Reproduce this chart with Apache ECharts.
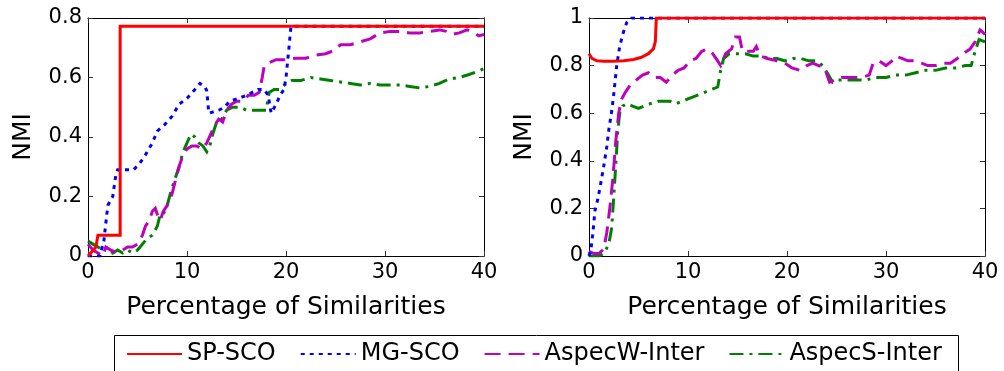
<!DOCTYPE html>
<html>
<head>
<meta charset="utf-8">
<script src="https://cdn.jsdelivr.net/npm/echarts@6/dist/echarts.min.js"></script>
<style>
html,body{margin:0;padding:0;background:#fff;}
#chart{width:1004px;height:371px;}
</style>
</head>
<body>
<div id="chart"></div>
<script>
// ---------- data ----------
const seriesNames = ['SP-SCO', 'MG-SCO', 'AspecW-Inter', 'AspecS-Inter'];
const xTicks = [0, 10, 20, 30, 40];
const leftYTicks = [0, 0.2, 0.4, 0.6, 0.8];
const rightYTicks = [0, 0.2, 0.4, 0.6, 0.8, 1];

// Left panel
const leftSP = [[0,0],[0.8,0.03],[1.0,0.07],[3.25,0.07],[3.25,0.772],[40,0.772]];
const leftMG = [[0,0],[1.2,0],[1.6,0.05],[2.0,0.17],[2.5,0.2],[2.8,0.27],[3.0,0.29],[4.6,0.29],[5.2,0.31],[5.8,0.34],[6.5,0.38],[7.0,0.42],[7.7,0.44],[8.5,0.47],[9.2,0.51],[10,0.53],[10.8,0.56],[11.3,0.58],[11.8,0.57],[12.0,0.555],[12.2,0.48],[13.2,0.49],[13.8,0.5],[14.3,0.52],[15.2,0.53],[16.0,0.54],[16.6,0.55],[17.2,0.56],[17.8,0.56],[18.2,0.54],[18.5,0.48],[19.0,0.51],[19.4,0.54],[19.8,0.56],[20.0,0.6],[20.3,0.7],[20.5,0.772],[40,0.772]];
const leftAW = [[0,0.04],[0.5,0.02],[1,0.01],[1.5,0.0],[1.8,0.03],[2.3,0.02],[3,0.01],[3.5,0.02],[4,0.03],[4.5,0.03],[5,0.04],[5.5,0.07],[5.8,0.1],[6.2,0.12],[6.5,0.15],[6.8,0.16],[7.0,0.14],[7.3,0.12],[7.6,0.15],[8,0.17],[8.5,0.21],[8.8,0.25],[9.2,0.3],[9.6,0.34],[10,0.36],[10.5,0.37],[11,0.37],[11.5,0.36],[12,0.38],[12.4,0.41],[12.8,0.44],[13.2,0.46],[13.6,0.45],[14,0.49],[14.5,0.51],[15,0.52],[15.6,0.52],[16.2,0.54],[16.8,0.54],[17.3,0.55],[17.6,0.6],[17.8,0.64],[18.3,0.65],[19,0.66],[19.6,0.66],[20,0.66],[21,0.665],[22,0.665],[23,0.675],[24,0.68],[24.8,0.69],[25.5,0.71],[26.5,0.71],[27.5,0.72],[28.5,0.73],[29,0.74],[29.5,0.75],[30.5,0.755],[31.5,0.755],[32.5,0.75],[33.5,0.75],[34.5,0.755],[35.5,0.76],[36.2,0.755],[36.8,0.745],[37.5,0.75],[38.3,0.76],[39,0.75],[39.5,0.74],[40,0.745]];
const leftAS = [[0,0.05],[0.5,0.04],[1,0.03],[1.5,0.02],[2,0.03],[2.5,0.01],[3,0.02],[3.5,0.01],[4,0.02],[4.5,0.01],[5,0.02],[5.5,0.04],[6,0.06],[6.5,0.07],[7,0.1],[7.3,0.14],[7.6,0.14],[8,0.17],[8.4,0.22],[8.8,0.26],[9.2,0.3],[9.6,0.35],[10,0.38],[10.4,0.41],[10.8,0.4],[11.2,0.38],[11.6,0.37],[12,0.35],[12.3,0.37],[12.6,0.41],[13,0.45],[13.5,0.46],[14,0.49],[14.6,0.5],[15.4,0.5],[16,0.49],[16.6,0.49],[17.2,0.49],[17.6,0.49],[18,0.49],[18.3,0.55],[18.8,0.56],[19.4,0.56],[20,0.58],[20.6,0.59],[21.5,0.59],[22.5,0.6],[23.5,0.595],[24.5,0.59],[25.5,0.585],[26.5,0.58],[27.5,0.575],[28.5,0.58],[29.5,0.575],[30.5,0.575],[31.5,0.575],[32.5,0.57],[33.5,0.565],[34.5,0.57],[35.5,0.58],[36.5,0.595],[37.5,0.6],[38.5,0.61],[39.3,0.62],[40,0.63]];

// Right panel
const rightSP = [[0,0.85],[0.3,0.83],[0.8,0.82],[1.5,0.818],[2.5,0.818],[3.5,0.82],[4.5,0.826],[5.3,0.835],[6.0,0.85],[6.5,0.87],[6.7,0.9],[6.8,1.0],[40,1.0]];
const rightMG = [[0,0.0],[0.2,0.03],[0.4,0.1],[0.6,0.19],[0.9,0.24],[1.25,0.32],[1.5,0.38],[1.8,0.46],[2.0,0.53],[2.3,0.61],[2.5,0.68],[2.8,0.8],[3.1,0.88],[3.4,0.93],[3.8,0.98],[4.3,1.0],[40,1.0]];
const rightAW = [[0,0.02],[0.5,0.01],[1.0,0.01],[1.5,0.03],[1.8,0.1],[2.1,0.2],[2.4,0.32],[2.7,0.48],[3.0,0.6],[3.3,0.66],[3.7,0.69],[4.2,0.72],[4.8,0.74],[5.4,0.76],[6.0,0.77],[6.6,0.75],[7.2,0.75],[7.8,0.73],[8.4,0.76],[9.0,0.78],[9.6,0.79],[10.2,0.82],[10.8,0.83],[11.4,0.86],[11.9,0.87],[12.5,0.85],[13.0,0.82],[13.3,0.8],[13.8,0.85],[14.4,0.87],[14.8,0.92],[15.2,0.92],[15.5,0.86],[16.0,0.86],[16.6,0.86],[16.9,0.88],[17.3,0.84],[18,0.83],[19,0.82],[19.8,0.81],[20.5,0.79],[21.3,0.78],[22,0.8],[22.6,0.81],[23.2,0.8],[23.8,0.79],[24.3,0.73],[24.8,0.74],[25.5,0.75],[26.5,0.75],[27.5,0.75],[28.3,0.76],[28.7,0.81],[29.3,0.82],[30,0.8],[30.6,0.82],[31,0.84],[31.6,0.83],[32.2,0.82],[33,0.82],[33.6,0.81],[34.2,0.8],[35,0.8],[35.8,0.81],[36.5,0.81],[37.2,0.83],[37.8,0.85],[38.5,0.87],[39,0.9],[39.5,0.95],[39.8,0.94],[40,0.93]];
const rightAS = [[0,0.0],[0.5,0.0],[1.0,0.0],[1.5,0.01],[2.0,0.05],[2.3,0.12],[2.5,0.25],[2.7,0.38],[2.9,0.52],[3.1,0.6],[3.4,0.63],[3.8,0.64],[4.4,0.63],[5.0,0.62],[5.6,0.63],[6.2,0.64],[7.0,0.65],[7.6,0.65],[8.2,0.65],[8.8,0.64],[9.4,0.65],[10.0,0.66],[10.6,0.67],[11.2,0.68],[11.8,0.69],[12.4,0.7],[13.0,0.71],[13.3,0.78],[13.6,0.83],[14.2,0.85],[15,0.85],[15.8,0.85],[16.6,0.84],[17.4,0.84],[18.2,0.83],[19,0.83],[19.8,0.82],[20.6,0.83],[21.4,0.83],[22.2,0.82],[23,0.82],[23.6,0.8],[24.2,0.76],[24.6,0.73],[25.2,0.74],[26,0.74],[27,0.74],[28,0.74],[29,0.75],[30,0.75],[31,0.76],[32,0.76],[33,0.77],[34,0.78],[35,0.78],[36,0.79],[37,0.79],[38,0.8],[38.6,0.8],[39,0.86],[39.4,0.91],[40,0.9]];

// ---------- styles ----------
const FONT = 'DejaVu Sans';
const colors = ['#ff0000', '#0000ff', '#bf00bf', '#008000'];
const dashes = ['solid', [4, 5], [16, 8], [14, 6, 3, 6]];
const widths = [3, 3, 3, 3];

function xAxisPair(grid) {
  return [
    {
      type: 'value', gridIndex: grid, min: 0, max: 40, interval: 10, position: 'bottom',
      name: 'Percentage of Similarities', nameLocation: 'middle', nameGap: 39,
      nameTextStyle: {fontFamily: FONT, fontSize: 25, color: '#000'},
      axisLine: {show: true, onZero: false, lineStyle: {color: '#000', width: 1}},
      axisTick: {show: true, inside: true, length: 5, lineStyle: {color: '#333'}},
      axisLabel: {fontFamily: FONT, fontSize: 21, color: '#000', margin: 6},
      splitLine: {show: false}
    },
    {
      type: 'value', gridIndex: grid, min: 0, max: 40, interval: 10, position: 'top',
      axisLine: {show: true, onZero: false, lineStyle: {color: '#000', width: 1}},
      axisTick: {show: true, inside: true, length: 5, lineStyle: {color: '#333'}},
      axisLabel: {show: false}, splitLine: {show: false}
    }
  ];
}
function yAxisPair(grid, max) {
  return [
    {
      type: 'value', gridIndex: grid, min: 0, max: max, interval: 0.2, position: 'left',
      name: 'NMI', nameLocation: 'middle', nameGap: 52,
      nameTextStyle: {fontFamily: FONT, fontSize: 25, color: '#000'},
      axisLine: {show: true, onZero: false, lineStyle: {color: '#000', width: 1}},
      axisTick: {show: true, inside: true, length: 5, lineStyle: {color: '#333'}},
      axisLabel: {fontFamily: FONT, fontSize: 21, color: '#000', margin: 6,
        formatter: v => String(Math.round(v * 10) / 10)},
      splitLine: {show: false}
    },
    {
      type: 'value', gridIndex: grid, min: 0, max: max, interval: 0.2, position: 'right',
      axisLine: {show: true, onZero: false, lineStyle: {color: '#000', width: 1}},
      axisTick: {show: true, inside: true, length: 5, lineStyle: {color: '#333'}},
      axisLabel: {show: false}, splitLine: {show: false}
    }
  ];
}

const panelData = [[leftSP, leftMG, leftAW, leftAS], [rightSP, rightMG, rightAW, rightAS]];
const series = [];
panelData.forEach((arrs, p) => {
  arrs.forEach((d, i) => {
    series.push({
      type: 'line', name: seriesNames[i], data: d,
      xAxisIndex: p * 2, yAxisIndex: p * 2,
      symbol: 'none', showSymbol: false, animation: false,
      z: 10 - i,
      lineStyle: {color: colors[i], width: widths[i], type: dashes[i], cap: 'butt', join: 'miter'},
      itemStyle: {color: colors[i]}
    });
  });
});

const chart = echarts.init(document.getElementById('chart'), null, {renderer: 'canvas'});
chart.setOption({
  backgroundColor: '#fff',
  animation: false,
  grid: [
    {left: 88, top: 18, width: 396, height: 238, containLabel: false},
    {left: 589, top: 18, width: 396, height: 238, containLabel: false}
  ],
  xAxis: [...xAxisPair(0), ...xAxisPair(1)],
  yAxis: [...yAxisPair(0, 0.8), ...yAxisPair(1, 1)],
  legend: {
    data: seriesNames,
    left: 126, top: 342, padding: 0,
    itemWidth: 55, itemHeight: 14, itemGap: 24,
    itemStyle: {opacity: 0},
    lineStyle: {inherit: true},
    textStyle: {fontFamily: FONT, fontSize: 24, color: '#000'},
    selectedMode: false
  },
  graphic: [{
    type: 'rect', shape: {x: 114.5, y: 335.5, width: 844, height: 60},
    style: {fill: 'none', stroke: '#000', lineWidth: 1}, z: -1, silent: true
  }],
  series: series
});
</script>
</body>
</html>
